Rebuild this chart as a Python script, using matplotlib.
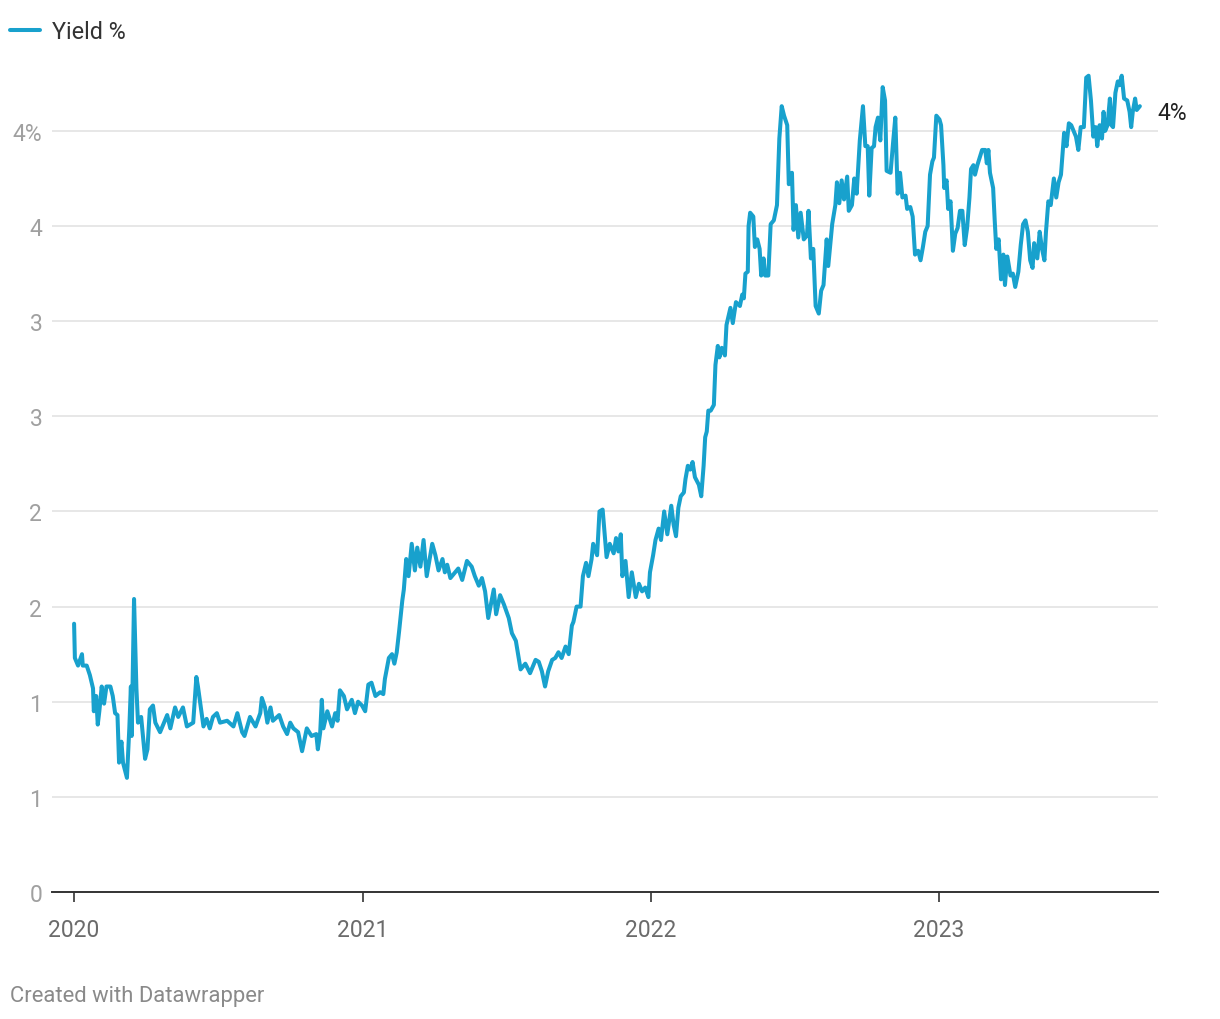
import numpy as np
import pandas as pd
import matplotlib
matplotlib.use('Agg')
import matplotlib.pyplot as plt
from matplotlib.ticker import FuncFormatter

plt.rcParams['font.family'] = ['Roboto', 'DejaVu Sans']

# days since 2020-01-01 and yield values
days = [
    0, 1, 5, 10, 11, 16, 20, 24, 25, 28, 30, 32, 35, 38, 41, 46, 49, 52, 55, 57,
    60, 62, 67, 70, 72, 73, 76, 79, 81, 85, 90, 93, 96, 100, 103, 109, 118, 122, 128, 132,
    138, 143, 151, 155, 157, 164, 168, 172, 176, 181, 185, 194, 202, 207, 213, 216, 223, 230, 236,
    238, 242, 245, 249, 252, 260, 265, 270, 274, 278, 284, 289, 295, 301, 307, 309, 312, 314, 316,
    321, 327, 331, 334, 337, 342, 346, 352, 356, 360, 365, 369, 373, 377, 382, 388, 392, 394, 399,
    403, 406, 409, 412, 416, 418, 421, 424, 428, 432, 435, 439, 443, 447,
    454, 458, 462, 467, 470, 473, 477, 481, 487, 492, 498, 504, 508, 513, 517, 521, 525, 532, 535,
    540, 545, 551, 555, 560, 566, 572, 578, 585, 589, 593, 597, 601, 606, 610, 614, 618, 623, 627,
    631, 633, 637, 642, 645, 649, 652, 656, 658, 663, 666, 670, 675, 679,
    684, 687, 690, 693, 695, 699, 703, 707, 712, 716, 720, 724, 728, 730, 734, 737, 741, 744, 748,
    752, 757, 760, 763, 766, 769, 773, 775, 778, 781, 784, 787, 792, 795, 798, 800, 802, 804, 807,
    811, 813, 816, 818, 821, 825, 827, 832, 835, 839, 844, 847,
    849, 851, 854, 855, 857, 861, 863, 866, 869, 871, 874, 876, 880, 883, 887, 891, 894, 897, 900,
    904, 906, 910, 912, 915, 918, 921, 925, 929, 931, 934, 937, 940, 944, 947, 950, 954, 956, 961,
    965, 967, 970, 973, 976, 980, 982, 986, 989, 992, 996, 1000, 1003, 1006, 1008, 1011, 1014, 1016,
    1019, 1022, 1025, 1028, 1030, 1035, 1038, 1041, 1044, 1047, 1050, 1054, 1056, 1060, 1063, 1066,
    1070, 1073, 1076, 1079, 1082, 1085, 1088, 1090, 1093, 1097,
    1099, 1102, 1103, 1106, 1108, 1111, 1114, 1117, 1120, 1123, 1126, 1129, 1132, 1135, 1137, 1140,
    1142, 1145, 1148, 1151, 1155, 1157, 1159, 1161, 1165, 1167, 1169, 1172, 1175, 1178, 1180, 1183,
    1187, 1190, 1193, 1197, 1200, 1203, 1206, 1209, 1212, 1215, 1217, 1221, 1224, 1227, 1230, 1232,
    1235, 1238, 1242, 1245, 1248, 1251, 1254, 1255, 1258, 1261, 1264, 1267, 1270, 1273, 1276, 1280,
    1283, 1286, 1289, 1292, 1295, 1297, 1300, 1303, 1305, 1307, 1310, 1313, 1315, 1317, 1320, 1323,
    1325, 1328, 1331, 1335, 1338, 1340, 1342, 1345, 1347, 1351,
]
yields = [
    1.41, 1.23, 1.19, 1.25, 1.19, 1.19, 1.14, 1.07, 0.95, 1.03, 0.88, 0.95, 1.08, 0.99, 1.08, 1.08, 1.03, 0.94, 0.93, 0.68,
    0.79, 0.68, 0.60, 0.86, 1.08, 0.82, 1.54, 1.07, 0.89, 0.92, 0.70, 0.75, 0.96, 0.98, 0.89, 0.84, 0.93, 0.86, 0.97, 0.92,
    0.97, 0.87, 0.89, 1.13, 1.08, 0.87, 0.91, 0.86, 0.92, 0.94, 0.89, 0.90, 0.87, 0.94, 0.84, 0.82, 0.92, 0.87, 0.94,
    1.02, 0.97, 0.89, 0.97, 0.90, 0.93, 0.87, 0.83, 0.89, 0.86, 0.84, 0.74, 0.86, 0.82, 0.83, 0.75, 0.84, 1.01, 0.86,
    0.95, 0.87, 0.94, 0.90, 1.06, 1.03, 0.96, 1.01, 0.94, 1.00, 0.98, 0.95, 1.09, 1.10, 1.03, 1.05, 1.04, 1.12, 1.23,
    1.25, 1.20, 1.26, 1.37, 1.53, 1.59, 1.75, 1.66, 1.83, 1.69, 1.81, 1.71, 1.85, 1.66,
    1.83, 1.77, 1.69, 1.75, 1.68, 1.72, 1.65, 1.67, 1.70, 1.64, 1.74, 1.71, 1.66, 1.61, 1.65, 1.58, 1.44, 1.59, 1.46,
    1.56, 1.51, 1.44, 1.36, 1.32, 1.17, 1.20, 1.15, 1.22, 1.21, 1.16, 1.08, 1.16, 1.22, 1.23, 1.26, 1.23, 1.29, 1.25,
    1.40, 1.42, 1.50, 1.50, 1.66, 1.73, 1.66, 1.75, 1.83, 1.77, 2.00, 2.01, 1.76, 1.83,
    1.78, 1.86, 1.79, 1.88, 1.66, 1.74, 1.55, 1.68, 1.55, 1.62, 1.58, 1.60, 1.55, 1.68, 1.77, 1.85, 1.91, 1.85, 2.00,
    1.88, 2.03, 1.93, 1.87, 2.02, 2.08, 2.10, 2.17, 2.24, 2.22, 2.26, 2.18, 2.14, 2.08, 2.24, 2.39, 2.42, 2.53, 2.53,
    2.56, 2.77, 2.87, 2.81, 2.86, 2.82, 2.98, 3.07, 2.99, 3.10, 3.08, 3.14,
    3.12, 3.25, 3.26, 3.50, 3.57, 3.55, 3.39, 3.43, 3.38, 3.24, 3.33, 3.24, 3.24, 3.51, 3.53, 3.61, 3.96, 4.13, 4.08,
    4.03, 3.72, 3.78, 3.48, 3.61, 3.44, 3.57, 3.43, 3.45, 3.58, 3.33, 3.38, 3.08, 3.04, 3.16, 3.19, 3.43, 3.29, 3.51,
    3.61, 3.73, 3.62, 3.74, 3.64, 3.76, 3.58, 3.61, 3.75, 3.67, 3.95, 4.13, 3.92, 3.92, 3.66, 3.91, 3.92, 4.02,
    4.07, 3.95, 4.23, 4.16, 3.79, 3.78, 3.93, 4.07, 3.67, 3.78, 3.65, 3.66, 3.59, 3.60, 3.55, 3.35,
    3.37, 3.32, 3.39, 3.47, 3.50, 3.77, 3.84, 3.86, 4.08, 4.06,
    4.03, 3.82, 3.70, 3.74, 3.59, 3.63, 3.37, 3.46, 3.49, 3.58, 3.58, 3.40, 3.49, 3.65, 3.80, 3.82,
    3.77, 3.82, 3.86, 3.90, 3.90, 3.83, 3.90, 3.78, 3.70, 3.53, 3.38, 3.43, 3.22, 3.35, 3.19, 3.34,
    3.24, 3.25, 3.18, 3.26, 3.40, 3.51, 3.53, 3.47, 3.32, 3.28, 3.41, 3.33, 3.47, 3.38, 3.32, 3.47,
    3.63, 3.61, 3.75, 3.65, 3.73, 3.77, 3.93, 3.99, 3.92, 4.04, 4.03, 4.00, 3.97, 3.90, 4.02, 4.02,
    4.28, 4.29, 4.16, 3.97, 4.02, 3.92, 4.03, 3.96, 4.10, 4.00, 4.03, 4.17, 4.03, 4.02, 4.20, 4.26,
    4.24, 4.29, 4.17, 4.16, 4.10, 4.02, 4.10, 4.17, 4.11, 4.13,
]
years = ['2020', '2021', '2022', '2023']
y_ticks = [0, 0.5, 1, 1.5, 2, 2.5, 3, 3.5, 4]

dates = pd.Timestamp('2020-01-01') + pd.to_timedelta(days, unit='D')

blue = '#18a1cd'
fs = 16.5

fig = plt.figure(figsize=(12.2, 10.2), dpi=100)
ax = fig.add_axes([52 / 1220, 1 - 893 / 1020, (1158 - 52) / 1220, (893 - 60) / 1020])

ax.plot(dates, yields, color=blue, lw=2.9, solid_joinstyle='round', solid_capstyle='round',
        label='Yield %', zorder=3)

ax.set_xlim(pd.Timestamp('2019-12-04'), pd.Timestamp('2023-10-06'))
ax.set_ylim(0, 4.378)

ax.set_yticks(y_ticks)
ax.yaxis.set_major_formatter(FuncFormatter(
    lambda v, p: f"{int(np.floor(v + 0.5))}" + ('%' if v == y_ticks[-1] else '')))
ax.grid(axis='y', color='#e3e3e3', lw=1.2, zorder=0)
ax.tick_params(axis='y', length=0, pad=7, labelsize=fs, labelcolor='#a0a0a0')

ax.set_xticks([pd.Timestamp(y + '-01-01') for y in years])
ax.set_xticklabels(years)
ax.tick_params(axis='x', length=7, width=1.2, color='#333333', pad=12,
               labelsize=fs, labelcolor='#6b6b6b')

for s in ['top', 'right', 'left']:
    ax.spines[s].set_visible(False)
ax.spines['bottom'].set_color('#333333')
ax.spines['bottom'].set_linewidth(1.4)
ax.spines['bottom'].set_zorder(4)

# end label
ax.annotate(f"{int(np.floor(yields[-1] + 0.5))}%", xy=(dates[-1], yields[-1]),
            xytext=(13, -4.5), textcoords='offset points', va='center', ha='left',
            fontsize=fs, color='#222222')

fig.legend(loc='upper left', bbox_to_anchor=(10 / 1220, 1 - 21 / 1020), frameon=False,
           handlelength=1.3, handletextpad=0.5, fontsize=16.8, labelcolor='#333333',
           borderaxespad=0, borderpad=0)

fig.text(10 / 1220, 1 - 997 / 1020, 'Created with Datawrapper', fontsize=15.8,
         color='#8a8a8a', va='center', ha='left')

fig.savefig('out.png', dpi=100)
